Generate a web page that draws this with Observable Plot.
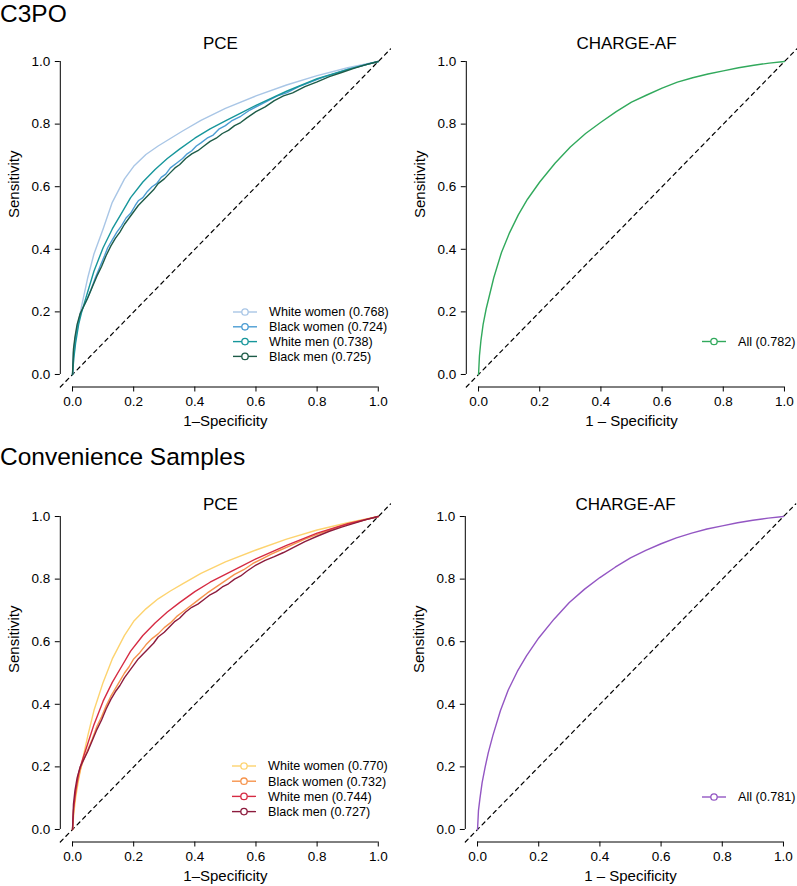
<!DOCTYPE html>
<html><head><meta charset="utf-8">
<script src="https://cdn.jsdelivr.net/npm/d3@7"></script>
<script src="https://cdn.jsdelivr.net/npm/@observablehq/plot@0.6"></script>
<style>
body{margin:0;background:#fff;font-family:"Liberation Sans",Arial,Helvetica,sans-serif;}
#page{position:relative;width:797px;height:886px;overflow:hidden;background:#fff;}
.sec{position:absolute;left:0;font-size:24.5px;line-height:24.5px;color:#000;white-space:nowrap;z-index:5;}
.panel{position:absolute;}
</style></head><body><div id="page"></div>
<script>
// ---------- data (fpr, tpr) ----------
const sectionTitles = ["C3PO", "Convenience Samples"];
const panelTitles = ["PCE", "CHARGE-AF"];
const xAxisTitles = ["1\u2013Specificity", "1 \u2013 Specificity"];
const yAxisTitle = "Sensitivity";
const tickValues = [0, 0.2, 0.4, 0.6, 0.8, 1.0];
const pceGroups = ["White women", "Black women", "White men", "Black men"];
const c3poPceAuc = ["0.768", "0.724", "0.738", "0.725"];
const convPceAuc = ["0.770", "0.732", "0.744", "0.727"];
const c3poChargeAuc = ["0.782"];
const convChargeAuc = ["0.781"];
const c3poColors = ["#a9c6e6", "#4b9cd3", "#17969b", "#1d5b47"];
const convColors = ["#fdd36f", "#f6944d", "#d62b43", "#8c1b3d"];
const c3poChargeColor = "#31a95c";
const convChargeColor = "#9356c3";

const c3poWhiteWomen = [[0,0],[0.004,0.06],[0.01,0.11],[0.02,0.17],[0.03,0.22],[0.05,0.31],[0.07,0.385],[0.1,0.465],[0.13,0.55],[0.17,0.625],[0.2,0.665],[0.24,0.703],[0.28,0.73],[0.32,0.754],[0.36,0.778],[0.42,0.812],[0.5,0.85],[0.6,0.89],[0.7,0.925],[0.8,0.955],[0.9,0.98],[1,1]];
const c3poBlackWomen = [[0,0],[0.003,0.07],[0.008,0.11],[0.015,0.15],[0.025,0.19],[0.035,0.215],[0.045,0.235],[0.06,0.27],[0.075,0.31],[0.09,0.345],[0.105,0.38],[0.115,0.405],[0.13,0.43],[0.145,0.455],[0.16,0.475],[0.175,0.5],[0.19,0.515],[0.205,0.54],[0.215,0.555],[0.23,0.565],[0.245,0.585],[0.26,0.6],[0.275,0.61],[0.29,0.63],[0.305,0.64],[0.32,0.66],[0.34,0.675],[0.36,0.69],[0.375,0.705],[0.39,0.715],[0.405,0.73],[0.42,0.74],[0.44,0.755],[0.46,0.765],[0.48,0.785],[0.5,0.795],[0.52,0.81],[0.55,0.825],[0.58,0.845],[0.61,0.86],[0.64,0.875],[0.67,0.89],[0.7,0.9],[0.74,0.92],[0.78,0.935],[0.82,0.95],[0.86,0.962],[0.9,0.975],[0.94,0.985],[0.97,0.993],[1,1]];
const c3poWhiteMen = [[0,0],[0.004,0.05],[0.01,0.1],[0.02,0.16],[0.03,0.2],[0.05,0.265],[0.07,0.33],[0.1,0.405],[0.13,0.465],[0.16,0.515],[0.19,0.565],[0.23,0.615],[0.27,0.655],[0.31,0.69],[0.35,0.72],[0.4,0.755],[0.45,0.785],[0.5,0.81],[0.55,0.835],[0.6,0.86],[0.7,0.905],[0.8,0.945],[0.9,0.975],[1,1]];
const c3poBlackMen = [[0,0],[0.003,0.08],[0.008,0.12],[0.015,0.16],[0.025,0.195],[0.035,0.215],[0.05,0.245],[0.065,0.28],[0.08,0.315],[0.095,0.345],[0.11,0.38],[0.125,0.41],[0.14,0.435],[0.155,0.455],[0.17,0.48],[0.185,0.5],[0.2,0.52],[0.215,0.54],[0.23,0.555],[0.25,0.575],[0.265,0.59],[0.28,0.61],[0.3,0.625],[0.32,0.645],[0.335,0.66],[0.35,0.67],[0.37,0.69],[0.39,0.705],[0.41,0.715],[0.43,0.73],[0.45,0.745],[0.47,0.755],[0.49,0.77],[0.51,0.78],[0.53,0.795],[0.55,0.805],[0.57,0.82],[0.6,0.84],[0.63,0.855],[0.66,0.875],[0.69,0.89],[0.72,0.9],[0.76,0.92],[0.8,0.935],[0.84,0.952],[0.88,0.965],[0.92,0.978],[0.96,0.99],[1,1]];
const c3poCharge = [[0,0],[0.003,0.06],[0.008,0.11],[0.015,0.16],[0.025,0.21],[0.035,0.25],[0.05,0.31],[0.075,0.39],[0.1,0.45],[0.13,0.51],[0.16,0.56],[0.2,0.615],[0.25,0.675],[0.3,0.727],[0.35,0.77],[0.4,0.806],[0.45,0.84],[0.5,0.87],[0.55,0.893],[0.6,0.915],[0.65,0.934],[0.7,0.948],[0.75,0.96],[0.8,0.97],[0.85,0.98],[0.9,0.988],[0.95,0.995],[1,1]];

const convWhiteWomen = [[0,0],[0.004,0.05],[0.01,0.1],[0.02,0.16],[0.03,0.21],[0.05,0.3],[0.07,0.38],[0.1,0.47],[0.13,0.545],[0.17,0.62],[0.2,0.665],[0.24,0.705],[0.28,0.737],[0.32,0.762],[0.36,0.785],[0.42,0.818],[0.5,0.855],[0.6,0.893],[0.7,0.928],[0.8,0.957],[0.9,0.98],[1,1]];
const convBlackWomen = [[0,0],[0.003,0.06],[0.008,0.1],[0.015,0.145],[0.025,0.19],[0.035,0.22],[0.05,0.255],[0.065,0.29],[0.08,0.33],[0.095,0.36],[0.11,0.395],[0.125,0.425],[0.14,0.45],[0.155,0.475],[0.17,0.5],[0.185,0.52],[0.2,0.545],[0.22,0.565],[0.24,0.59],[0.26,0.61],[0.28,0.625],[0.3,0.645],[0.32,0.66],[0.34,0.68],[0.36,0.695],[0.38,0.71],[0.4,0.725],[0.42,0.74],[0.44,0.755],[0.47,0.775],[0.5,0.795],[0.53,0.815],[0.56,0.83],[0.59,0.85],[0.62,0.865],[0.65,0.88],[0.68,0.893],[0.72,0.91],[0.76,0.928],[0.8,0.943],[0.84,0.957],[0.88,0.97],[0.92,0.98],[0.96,0.99],[1,1]];
const convWhiteMen = [[0,0],[0.004,0.07],[0.01,0.12],[0.02,0.18],[0.03,0.215],[0.05,0.275],[0.07,0.335],[0.1,0.41],[0.13,0.47],[0.16,0.52],[0.19,0.57],[0.23,0.62],[0.27,0.66],[0.31,0.695],[0.35,0.725],[0.4,0.76],[0.45,0.79],[0.5,0.815],[0.55,0.84],[0.6,0.865],[0.7,0.908],[0.8,0.947],[0.9,0.977],[1,1]];
const convBlackMen = [[0,0],[0.003,0.08],[0.008,0.125],[0.015,0.165],[0.025,0.2],[0.035,0.22],[0.05,0.25],[0.065,0.285],[0.08,0.32],[0.095,0.35],[0.11,0.385],[0.125,0.415],[0.14,0.44],[0.155,0.46],[0.17,0.485],[0.185,0.505],[0.2,0.525],[0.215,0.545],[0.23,0.56],[0.25,0.58],[0.265,0.595],[0.28,0.615],[0.3,0.63],[0.32,0.65],[0.335,0.665],[0.35,0.675],[0.37,0.695],[0.39,0.71],[0.41,0.72],[0.43,0.735],[0.45,0.75],[0.47,0.76],[0.49,0.775],[0.51,0.785],[0.53,0.8],[0.55,0.81],[0.57,0.825],[0.6,0.845],[0.63,0.86],[0.66,0.872],[0.69,0.885],[0.72,0.9],[0.76,0.92],[0.8,0.937],[0.84,0.953],[0.88,0.966],[0.92,0.978],[0.96,0.99],[1,1]];
const convCharge = [[0,0],[0.003,0.06],[0.008,0.1],[0.015,0.15],[0.025,0.2],[0.035,0.245],[0.05,0.3],[0.075,0.38],[0.1,0.445],[0.13,0.505],[0.16,0.555],[0.2,0.612],[0.25,0.672],[0.3,0.725],[0.35,0.768],[0.4,0.805],[0.45,0.838],[0.5,0.868],[0.55,0.892],[0.6,0.913],[0.65,0.932],[0.7,0.947],[0.75,0.96],[0.8,0.97],[0.85,0.98],[0.9,0.988],[0.95,0.995],[1,1]];

// scale domain (R-style 4% padding around 0..1)
const axisDomain = [-0.04, 1.04];

// ---------- layout ----------
const panels = [
  {left:0, top:0, w:400, h:443, m:[48.5,10,56.5,59.8], title:panelTitles[0], titleDy:-5.9, xTitle:xAxisTitles[0],
   curves:[c3poWhiteWomen,c3poBlackWomen,c3poWhiteMen,c3poBlackMen], colors:c3poColors,
   labels:pceGroups.map((g,i)=>`${g} (${c3poPceAuc[i]})`), legend:{x:233, y:312, step:14.8}},
  {left:400, top:0, w:397, h:443, m:[48.5,0.8,56.5,65.8], title:panelTitles[1], titleDy:-5.9, xTitle:xAxisTitles[1],
   curves:[c3poCharge], colors:[c3poChargeColor],
   labels:[`All (${c3poChargeAuc[0]})`], legend:{x:702, y:341.5, step:15}},
  {left:0, top:443, w:400, h:443, m:[60.5,10,44.5,59.8], title:panelTitles[0], titleDy:0.1, xTitle:xAxisTitles[0],
   curves:[convWhiteWomen,convBlackWomen,convWhiteMen,convBlackMen], colors:convColors,
   labels:pceGroups.map((g,i)=>`${g} (${convPceAuc[i]})`), legend:{x:232, y:766, step:15.2}},
  {left:400, top:443, w:397, h:443, m:[60.5,1.8,44.5,64.8], title:panelTitles[1], titleDy:0.1, xTitle:xAxisTitles[1],
   curves:[convCharge], colors:[convChargeColor],
   labels:[`All (${convChargeAuc[0]})`], legend:{x:702, y:797, step:15}}
];

const page = document.getElementById("page");
const fmt = d3.format(".1f");

for (const p of panels) {
  const [mt, mr, mb, ml] = p.m;
  const marks = [
    Plot.ruleY([axisDomain[0]], {x1: tickValues[0], x2: tickValues[tickValues.length-1], stroke:"#000", strokeWidth:1}),
    Plot.ruleX([axisDomain[0]], {y1: tickValues[0], y2: tickValues[tickValues.length-1], stroke:"#000", strokeWidth:1}),
    Plot.axisX({ticks: tickValues, tickFormat: fmt, tickSize: 5, tickPadding: 4, label: null, stroke:"#000"}),
    Plot.axisY({ticks: tickValues, tickFormat: fmt, tickSize: 5, tickPadding: 5, label: null, stroke:"#000"}),
    Plot.line(axisDomain.map(v => ({x:v, y:v})), {x:"x", y:"y", stroke:"#000", strokeWidth:1.2, strokeDasharray:"4,4"}),
    ...p.curves.map((c, i) => Plot.line(c, {x: d => d[0], y: d => d[1], stroke: p.colors[i], strokeWidth: 1.4})),
    Plot.text([p.title], {frameAnchor:"top", dx:-5, dy:p.titleDy, fontSize:17, lineAnchor:"middle", fill:"#000"}),
    Plot.text([p.xTitle], {frameAnchor:"bottom", dy:34.5, fontSize:15, lineAnchor:"middle", fill:"#000"}),
    Plot.text([yAxisTitle], {frameAnchor:"left", dx:-46, rotate:-90, fontSize:15, lineAnchor:"middle", fill:"#000"})
  ];
  const svg = Plot.plot({
    width: p.w, height: p.h,
    marginTop: mt, marginRight: mr, marginBottom: mb, marginLeft: ml,
    x: {domain: axisDomain, axis: null},
    y: {domain: axisDomain, axis: null},
    style: {fontFamily: '"Liberation Sans", Arial, Helvetica, sans-serif', fontSize: "13.5px", color: "#000", background: "transparent", overflow: "visible"},
    marks
  });
  const lg = d3.select(svg).append("g").attr("transform", `translate(${-p.left},${-p.top})`);
  p.labels.forEach((lab, i) => {
    const y = p.legend.y + i * p.legend.step;
    const x = p.legend.x;
    lg.append("line").attr("x1", x).attr("x2", x + 24).attr("y1", y).attr("y2", y)
      .attr("stroke", p.colors[i]).attr("stroke-width", 1.4);
    lg.append("circle").attr("cx", x + 12).attr("cy", y).attr("r", 3.2)
      .attr("fill", "white").attr("stroke", p.colors[i]).attr("stroke-width", 1.3);
    lg.append("text").attr("x", x + 36).attr("y", y).attr("dy", "0.35em")
      .style("text-anchor", "start")
      .style("font-size", "12.6px")
      .style("font-family", '"Liberation Sans", Arial, Helvetica, sans-serif')
      .attr("fill", "#000").text(lab);
  });
  const wrap = document.createElement("div");
  wrap.className = "panel";
  wrap.style.left = p.left + "px";
  wrap.style.top = p.top + "px";
  wrap.appendChild(svg);
  page.appendChild(wrap);
}

// section titles on top of the panels
const secTops = [1.5, 445.3];
sectionTitles.forEach((t, i) => {
  const d = document.createElement("div");
  d.className = "sec";
  d.style.top = secTops[i] + "px";
  d.textContent = t;
  page.appendChild(d);
});
</script>
</body></html>
